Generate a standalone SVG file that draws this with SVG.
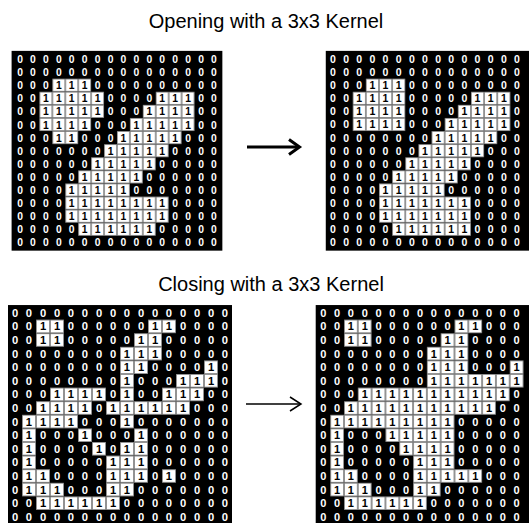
<svg xmlns="http://www.w3.org/2000/svg" width="529" height="523" viewBox="0 0 529 523">
<style>
.bg{fill:#000}
.d{font-family:"Liberation Sans",Arial,sans-serif;font-size:8px;font-weight:bold;text-anchor:middle;dominant-baseline:central}
.z{fill:#fff}
.o{fill:#000}
.t{font-family:"Liberation Sans",Arial,sans-serif;font-size:20px;fill:#000;text-anchor:middle}
.c{fill:url(#cell)}
.ar{fill:none;stroke:#000;stroke-linecap:butt}
</style>
<defs>
<pattern id="cell" patternUnits="userSpaceOnUse" x="5" y="5" width="10" height="10"><rect width="10" height="10" fill="#fff" stroke="#7f7f7f" stroke-width="1.2"/></pattern>
</defs>
<rect width="529" height="523" fill="#fff"/>
<text class="t" x="266" y="28">Opening with a 3x3 Kernel</text>
<text class="t" x="271" y="291">Closing with a 3x3 Kernel</text>

<g id="opening-input" transform="translate(20,59) scale(1.293,1.31)">
<rect class="bg" x="-6.5" y="-6.2" width="163" height="152.5"/>
<rect class="c" x="25" y="15" width="30" height="10"/>
<rect class="c" x="15" y="25" width="50" height="10"/><rect class="c" x="105" y="25" width="30" height="10"/>
<rect class="c" x="15" y="35" width="50" height="10"/><rect class="c" x="95" y="35" width="40" height="10"/>
<rect class="c" x="15" y="45" width="40" height="10"/><rect class="c" x="85" y="45" width="50" height="10"/>
<rect class="c" x="25" y="55" width="20" height="10"/><rect class="c" x="75" y="55" width="50" height="10"/>
<rect class="c" x="65" y="65" width="50" height="10"/>
<rect class="c" x="55" y="75" width="50" height="10"/>
<rect class="c" x="45" y="85" width="50" height="10"/>
<rect class="c" x="35" y="95" width="50" height="10"/>
<rect class="c" x="35" y="105" width="80" height="10"/>
<rect class="c" x="35" y="115" width="80" height="10"/>
<rect class="c" x="45" y="125" width="60" height="10"/>
<text class="d" y="0"><tspan class="z" x="0 10 20 30 40 50 60 70 80 90 100 110 120 130 140 150">0000000000000000</tspan></text>
<text class="d" y="10"><tspan class="z" x="0 10 20 30 40 50 60 70 80 90 100 110 120 130 140 150">0000000000000000</tspan></text>
<text class="d" y="20"><tspan class="z" x="0 10 20">000</tspan><tspan class="o" x="30 40 50">111</tspan><tspan class="z" x="60 70 80 90 100 110 120 130 140 150">0000000000</tspan></text>
<text class="d" y="30"><tspan class="z" x="0 10">00</tspan><tspan class="o" x="20 30 40 50 60">11111</tspan><tspan class="z" x="70 80 90 100">0000</tspan><tspan class="o" x="110 120 130">111</tspan><tspan class="z" x="140 150">00</tspan></text>
<text class="d" y="40"><tspan class="z" x="0 10">00</tspan><tspan class="o" x="20 30 40 50 60">11111</tspan><tspan class="z" x="70 80 90">000</tspan><tspan class="o" x="100 110 120 130">1111</tspan><tspan class="z" x="140 150">00</tspan></text>
<text class="d" y="50"><tspan class="z" x="0 10">00</tspan><tspan class="o" x="20 30 40 50">1111</tspan><tspan class="z" x="60 70 80">000</tspan><tspan class="o" x="90 100 110 120 130">11111</tspan><tspan class="z" x="140 150">00</tspan></text>
<text class="d" y="60"><tspan class="z" x="0 10 20">000</tspan><tspan class="o" x="30 40">11</tspan><tspan class="z" x="50 60 70">000</tspan><tspan class="o" x="80 90 100 110 120">11111</tspan><tspan class="z" x="130 140 150">000</tspan></text>
<text class="d" y="70"><tspan class="z" x="0 10 20 30 40 50 60">0000000</tspan><tspan class="o" x="70 80 90 100 110">11111</tspan><tspan class="z" x="120 130 140 150">0000</tspan></text>
<text class="d" y="80"><tspan class="z" x="0 10 20 30 40 50">000000</tspan><tspan class="o" x="60 70 80 90 100">11111</tspan><tspan class="z" x="110 120 130 140 150">00000</tspan></text>
<text class="d" y="90"><tspan class="z" x="0 10 20 30 40">00000</tspan><tspan class="o" x="50 60 70 80 90">11111</tspan><tspan class="z" x="100 110 120 130 140 150">000000</tspan></text>
<text class="d" y="100"><tspan class="z" x="0 10 20 30">0000</tspan><tspan class="o" x="40 50 60 70 80">11111</tspan><tspan class="z" x="90 100 110 120 130 140 150">0000000</tspan></text>
<text class="d" y="110"><tspan class="z" x="0 10 20 30">0000</tspan><tspan class="o" x="40 50 60 70 80 90 100 110">11111111</tspan><tspan class="z" x="120 130 140 150">0000</tspan></text>
<text class="d" y="120"><tspan class="z" x="0 10 20 30">0000</tspan><tspan class="o" x="40 50 60 70 80 90 100 110">11111111</tspan><tspan class="z" x="120 130 140 150">0000</tspan></text>
<text class="d" y="130"><tspan class="z" x="0 10 20 30 40">00000</tspan><tspan class="o" x="50 60 70 80 90 100">111111</tspan><tspan class="z" x="110 120 130 140 150">00000</tspan></text>
<text class="d" y="140"><tspan class="z" x="0 10 20 30 40 50 60 70 80 90 100 110 120 130 140 150">0000000000000000</tspan></text>
</g>

<g id="opening-output" transform="translate(333,59) scale(1.314,1.31)">
<rect class="bg" x="-5.5" y="-6.2" width="170" height="152.5"/>
<rect class="c" x="25" y="15" width="30" height="10"/>
<rect class="c" x="15" y="25" width="40" height="10"/><rect class="c" x="105" y="25" width="30" height="10"/>
<rect class="c" x="15" y="35" width="40" height="10"/><rect class="c" x="95" y="35" width="40" height="10"/>
<rect class="c" x="15" y="45" width="40" height="10"/><rect class="c" x="85" y="45" width="50" height="10"/>
<rect class="c" x="75" y="55" width="50" height="10"/>
<rect class="c" x="65" y="65" width="50" height="10"/>
<rect class="c" x="55" y="75" width="50" height="10"/>
<rect class="c" x="45" y="85" width="50" height="10"/>
<rect class="c" x="35" y="95" width="50" height="10"/>
<rect class="c" x="35" y="105" width="70" height="10"/>
<rect class="c" x="35" y="115" width="70" height="10"/>
<rect class="c" x="45" y="125" width="60" height="10"/>
<text class="d" y="0"><tspan class="z" x="0 10 20 30 40 50 60 70 80 90 100 110 120 130 140">000000000000000</tspan></text>
<text class="d" y="10"><tspan class="z" x="0 10 20 30 40 50 60 70 80 90 100 110 120 130 140">000000000000000</tspan></text>
<text class="d" y="20"><tspan class="z" x="0 10 20">000</tspan><tspan class="o" x="30 40 50">111</tspan><tspan class="z" x="60 70 80 90 100 110 120 130 140">000000000</tspan></text>
<text class="d" y="30"><tspan class="z" x="0 10">00</tspan><tspan class="o" x="20 30 40 50">1111</tspan><tspan class="z" x="60 70 80 90 100">00000</tspan><tspan class="o" x="110 120 130">111</tspan><tspan class="z" x="140">0</tspan></text>
<text class="d" y="40"><tspan class="z" x="0 10">00</tspan><tspan class="o" x="20 30 40 50">1111</tspan><tspan class="z" x="60 70 80 90">0000</tspan><tspan class="o" x="100 110 120 130">1111</tspan><tspan class="z" x="140">0</tspan></text>
<text class="d" y="50"><tspan class="z" x="0 10">00</tspan><tspan class="o" x="20 30 40 50">1111</tspan><tspan class="z" x="60 70 80">000</tspan><tspan class="o" x="90 100 110 120 130">11111</tspan><tspan class="z" x="140">0</tspan></text>
<text class="d" y="60"><tspan class="z" x="0 10 20 30 40 50 60 70">00000000</tspan><tspan class="o" x="80 90 100 110 120">11111</tspan><tspan class="z" x="130 140">00</tspan></text>
<text class="d" y="70"><tspan class="z" x="0 10 20 30 40 50 60">0000000</tspan><tspan class="o" x="70 80 90 100 110">11111</tspan><tspan class="z" x="120 130 140">000</tspan></text>
<text class="d" y="80"><tspan class="z" x="0 10 20 30 40 50">000000</tspan><tspan class="o" x="60 70 80 90 100">11111</tspan><tspan class="z" x="110 120 130 140">0000</tspan></text>
<text class="d" y="90"><tspan class="z" x="0 10 20 30 40">00000</tspan><tspan class="o" x="50 60 70 80 90">11111</tspan><tspan class="z" x="100 110 120 130 140">00000</tspan></text>
<text class="d" y="100"><tspan class="z" x="0 10 20 30">0000</tspan><tspan class="o" x="40 50 60 70 80">11111</tspan><tspan class="z" x="90 100 110 120 130 140">000000</tspan></text>
<text class="d" y="110"><tspan class="z" x="0 10 20 30">0000</tspan><tspan class="o" x="40 50 60 70 80 90 100">1111111</tspan><tspan class="z" x="110 120 130 140">0000</tspan></text>
<text class="d" y="120"><tspan class="z" x="0 10 20 30">0000</tspan><tspan class="o" x="40 50 60 70 80 90 100">1111111</tspan><tspan class="z" x="110 120 130 140">0000</tspan></text>
<text class="d" y="130"><tspan class="z" x="0 10 20 30 40">00000</tspan><tspan class="o" x="50 60 70 80 90 100">111111</tspan><tspan class="z" x="110 120 130 140">0000</tspan></text>
<text class="d" y="140"><tspan class="z" x="0 10 20 30 40 50 60 70 80 90 100 110 120 130 140">000000000000000</tspan></text>
</g>

<g id="closing-input" transform="translate(15,312.8) scale(1.4,1.36)">
<rect class="bg" x="-5" y="-5.7" width="160" height="165"/>
<rect class="c" x="15" y="5" width="20" height="10"/><rect class="c" x="95" y="5" width="20" height="10"/>
<rect class="c" x="15" y="15" width="20" height="10"/><rect class="c" x="85" y="15" width="20" height="10"/>
<rect class="c" x="75" y="25" width="30" height="10"/>
<rect class="c" x="75" y="35" width="20" height="10"/><rect class="c" x="135" y="35" width="10" height="10"/>
<rect class="c" x="75" y="45" width="10" height="10"/><rect class="c" x="115" y="45" width="30" height="10"/>
<rect class="c" x="25" y="55" width="40" height="10"/><rect class="c" x="75" y="55" width="10" height="10"/><rect class="c" x="105" y="55" width="30" height="10"/>
<rect class="c" x="15" y="65" width="40" height="10"/><rect class="c" x="65" y="65" width="60" height="10"/>
<rect class="c" x="5" y="75" width="40" height="10"/><rect class="c" x="75" y="75" width="10" height="10"/>
<rect class="c" x="5" y="85" width="10" height="10"/><rect class="c" x="45" y="85" width="10" height="10"/><rect class="c" x="85" y="85" width="10" height="10"/>
<rect class="c" x="5" y="95" width="10" height="10"/><rect class="c" x="55" y="95" width="10" height="10"/><rect class="c" x="75" y="95" width="20" height="10"/>
<rect class="c" x="5" y="105" width="10" height="10"/><rect class="c" x="65" y="105" width="30" height="10"/>
<rect class="c" x="5" y="115" width="20" height="10"/><rect class="c" x="65" y="115" width="30" height="10"/><rect class="c" x="105" y="115" width="10" height="10"/>
<rect class="c" x="5" y="125" width="30" height="10"/><rect class="c" x="65" y="125" width="20" height="10"/>
<rect class="c" x="15" y="135" width="60" height="10"/>
<text class="d" y="0"><tspan class="z" x="0 10 20 30 40 50 60 70 80 90 100 110 120 130 140 150">0000000000000000</tspan></text>
<text class="d" y="10"><tspan class="z" x="0 10">00</tspan><tspan class="o" x="20 30">11</tspan><tspan class="z" x="40 50 60 70 80 90">000000</tspan><tspan class="o" x="100 110">11</tspan><tspan class="z" x="120 130 140 150">0000</tspan></text>
<text class="d" y="20"><tspan class="z" x="0 10">00</tspan><tspan class="o" x="20 30">11</tspan><tspan class="z" x="40 50 60 70 80">00000</tspan><tspan class="o" x="90 100">11</tspan><tspan class="z" x="110 120 130 140 150">00000</tspan></text>
<text class="d" y="30"><tspan class="z" x="0 10 20 30 40 50 60 70">00000000</tspan><tspan class="o" x="80 90 100">111</tspan><tspan class="z" x="110 120 130 140 150">00000</tspan></text>
<text class="d" y="40"><tspan class="z" x="0 10 20 30 40 50 60 70">00000000</tspan><tspan class="o" x="80 90">11</tspan><tspan class="z" x="100 110 120 130">0000</tspan><tspan class="o" x="140">1</tspan><tspan class="z" x="150">0</tspan></text>
<text class="d" y="50"><tspan class="z" x="0 10 20 30 40 50 60 70">00000000</tspan><tspan class="o" x="80">1</tspan><tspan class="z" x="90 100 110">000</tspan><tspan class="o" x="120 130 140">111</tspan><tspan class="z" x="150">0</tspan></text>
<text class="d" y="60"><tspan class="z" x="0 10 20">000</tspan><tspan class="o" x="30 40 50 60">1111</tspan><tspan class="z" x="70">0</tspan><tspan class="o" x="80">1</tspan><tspan class="z" x="90 100">00</tspan><tspan class="o" x="110 120 130">111</tspan><tspan class="z" x="140 150">00</tspan></text>
<text class="d" y="70"><tspan class="z" x="0 10">00</tspan><tspan class="o" x="20 30 40 50">1111</tspan><tspan class="z" x="60">0</tspan><tspan class="o" x="70 80 90 100 110 120">111111</tspan><tspan class="z" x="130 140 150">000</tspan></text>
<text class="d" y="80"><tspan class="z" x="0">0</tspan><tspan class="o" x="10 20 30 40">1111</tspan><tspan class="z" x="50 60 70">000</tspan><tspan class="o" x="80">1</tspan><tspan class="z" x="90 100 110 120 130 140 150">0000000</tspan></text>
<text class="d" y="90"><tspan class="z" x="0">0</tspan><tspan class="o" x="10">1</tspan><tspan class="z" x="20 30 40">000</tspan><tspan class="o" x="50">1</tspan><tspan class="z" x="60 70 80">000</tspan><tspan class="o" x="90">1</tspan><tspan class="z" x="100 110 120 130 140 150">000000</tspan></text>
<text class="d" y="100"><tspan class="z" x="0">0</tspan><tspan class="o" x="10">1</tspan><tspan class="z" x="20 30 40 50">0000</tspan><tspan class="o" x="60">1</tspan><tspan class="z" x="70">0</tspan><tspan class="o" x="80 90">11</tspan><tspan class="z" x="100 110 120 130 140 150">000000</tspan></text>
<text class="d" y="110"><tspan class="z" x="0">0</tspan><tspan class="o" x="10">1</tspan><tspan class="z" x="20 30 40 50 60">00000</tspan><tspan class="o" x="70 80 90">111</tspan><tspan class="z" x="100 110 120 130 140 150">000000</tspan></text>
<text class="d" y="120"><tspan class="z" x="0">0</tspan><tspan class="o" x="10 20">11</tspan><tspan class="z" x="30 40 50 60">0000</tspan><tspan class="o" x="70 80 90">111</tspan><tspan class="z" x="100">0</tspan><tspan class="o" x="110">1</tspan><tspan class="z" x="120 130 140 150">0000</tspan></text>
<text class="d" y="130"><tspan class="z" x="0">0</tspan><tspan class="o" x="10 20 30">111</tspan><tspan class="z" x="40 50 60">000</tspan><tspan class="o" x="70 80">11</tspan><tspan class="z" x="90 100 110 120 130 140 150">0000000</tspan></text>
<text class="d" y="140"><tspan class="z" x="0 10">00</tspan><tspan class="o" x="20 30 40 50 60 70">111111</tspan><tspan class="z" x="80 90 100 110 120 130 140 150">00000000</tspan></text>
<text class="d" y="150"><tspan class="z" x="0 10 20 30 40 50 60 70 80 90 100 110 120 130 140 150">0000000000000000</tspan></text>
</g>

<g id="closing-output" transform="translate(323.3,312.8) scale(1.381,1.36)">
<rect class="bg" x="-5.5" y="-5.7" width="170" height="165"/>
<rect class="c" x="15" y="5" width="20" height="10"/><rect class="c" x="95" y="5" width="20" height="10"/>
<rect class="c" x="15" y="15" width="20" height="10"/><rect class="c" x="85" y="15" width="20" height="10"/>
<rect class="c" x="75" y="25" width="30" height="10"/>
<rect class="c" x="75" y="35" width="30" height="10"/><rect class="c" x="135" y="35" width="10" height="10"/>
<rect class="c" x="75" y="45" width="70" height="10"/>
<rect class="c" x="25" y="55" width="110" height="10"/>
<rect class="c" x="15" y="65" width="110" height="10"/>
<rect class="c" x="5" y="75" width="90" height="10"/>
<rect class="c" x="5" y="85" width="10" height="10"/><rect class="c" x="45" y="85" width="50" height="10"/>
<rect class="c" x="5" y="95" width="10" height="10"/><rect class="c" x="55" y="95" width="40" height="10"/>
<rect class="c" x="5" y="105" width="10" height="10"/><rect class="c" x="65" y="105" width="30" height="10"/>
<rect class="c" x="5" y="115" width="20" height="10"/><rect class="c" x="65" y="115" width="50" height="10"/>
<rect class="c" x="5" y="125" width="30" height="10"/><rect class="c" x="65" y="125" width="20" height="10"/>
<rect class="c" x="15" y="135" width="60" height="10"/>
<text class="d" y="0"><tspan class="z" x="0 10 20 30 40 50 60 70 80 90 100 110 120 130 140">000000000000000</tspan></text>
<text class="d" y="10"><tspan class="z" x="0 10">00</tspan><tspan class="o" x="20 30">11</tspan><tspan class="z" x="40 50 60 70 80 90">000000</tspan><tspan class="o" x="100 110">11</tspan><tspan class="z" x="120 130 140">000</tspan></text>
<text class="d" y="20"><tspan class="z" x="0 10">00</tspan><tspan class="o" x="20 30">11</tspan><tspan class="z" x="40 50 60 70 80">00000</tspan><tspan class="o" x="90 100">11</tspan><tspan class="z" x="110 120 130 140">0000</tspan></text>
<text class="d" y="30"><tspan class="z" x="0 10 20 30 40 50 60 70">00000000</tspan><tspan class="o" x="80 90 100">111</tspan><tspan class="z" x="110 120 130 140">0000</tspan></text>
<text class="d" y="40"><tspan class="z" x="0 10 20 30 40 50 60 70">00000000</tspan><tspan class="o" x="80 90 100">111</tspan><tspan class="z" x="110 120 130">000</tspan><tspan class="o" x="140">1</tspan></text>
<text class="d" y="50"><tspan class="z" x="0 10 20 30 40 50 60 70">00000000</tspan><tspan class="o" x="80 90 100 110 120 130 140">1111111</tspan></text>
<text class="d" y="60"><tspan class="z" x="0 10 20">000</tspan><tspan class="o" x="30 40 50 60 70 80 90 100 110 120 130">11111111111</tspan><tspan class="z" x="140">0</tspan></text>
<text class="d" y="70"><tspan class="z" x="0 10">00</tspan><tspan class="o" x="20 30 40 50 60 70 80 90 100 110 120">11111111111</tspan><tspan class="z" x="130 140">00</tspan></text>
<text class="d" y="80"><tspan class="z" x="0">0</tspan><tspan class="o" x="10 20 30 40 50 60 70 80 90">111111111</tspan><tspan class="z" x="100 110 120 130 140">00000</tspan></text>
<text class="d" y="90"><tspan class="z" x="0">0</tspan><tspan class="o" x="10">1</tspan><tspan class="z" x="20 30 40">000</tspan><tspan class="o" x="50 60 70 80 90">11111</tspan><tspan class="z" x="100 110 120 130 140">00000</tspan></text>
<text class="d" y="100"><tspan class="z" x="0">0</tspan><tspan class="o" x="10">1</tspan><tspan class="z" x="20 30 40 50">0000</tspan><tspan class="o" x="60 70 80 90">1111</tspan><tspan class="z" x="100 110 120 130 140">00000</tspan></text>
<text class="d" y="110"><tspan class="z" x="0">0</tspan><tspan class="o" x="10">1</tspan><tspan class="z" x="20 30 40 50 60">00000</tspan><tspan class="o" x="70 80 90">111</tspan><tspan class="z" x="100 110 120 130 140">00000</tspan></text>
<text class="d" y="120"><tspan class="z" x="0">0</tspan><tspan class="o" x="10 20">11</tspan><tspan class="z" x="30 40 50 60">0000</tspan><tspan class="o" x="70 80 90 100 110">11111</tspan><tspan class="z" x="120 130 140">000</tspan></text>
<text class="d" y="130"><tspan class="z" x="0">0</tspan><tspan class="o" x="10 20 30">111</tspan><tspan class="z" x="40 50 60">000</tspan><tspan class="o" x="70 80">11</tspan><tspan class="z" x="90 100 110 120 130 140">000000</tspan></text>
<text class="d" y="140"><tspan class="z" x="0 10">00</tspan><tspan class="o" x="20 30 40 50 60 70">111111</tspan><tspan class="z" x="80 90 100 110 120 130 140">0000000</tspan></text>
<text class="d" y="150"><tspan class="z" x="0 10 20 30 40 50 60 70 80 90 100 110 120 130 140">000000000000000</tspan></text>
</g>

<g id="connectors">
<g id="arrow-opening">
<line class="ar" x1="247" y1="147" x2="298" y2="147" stroke-width="3"/>
<polyline class="ar" points="289,139.5 299.5,147 289,154.5" stroke-width="3"/>
</g>
<g id="arrow-closing">
<line class="ar" x1="246" y1="404" x2="300" y2="404" stroke-width="1.5"/>
<polyline class="ar" points="290,397 301,404 290,411" stroke-width="1.5"/>
</g>
</g>
</svg>
